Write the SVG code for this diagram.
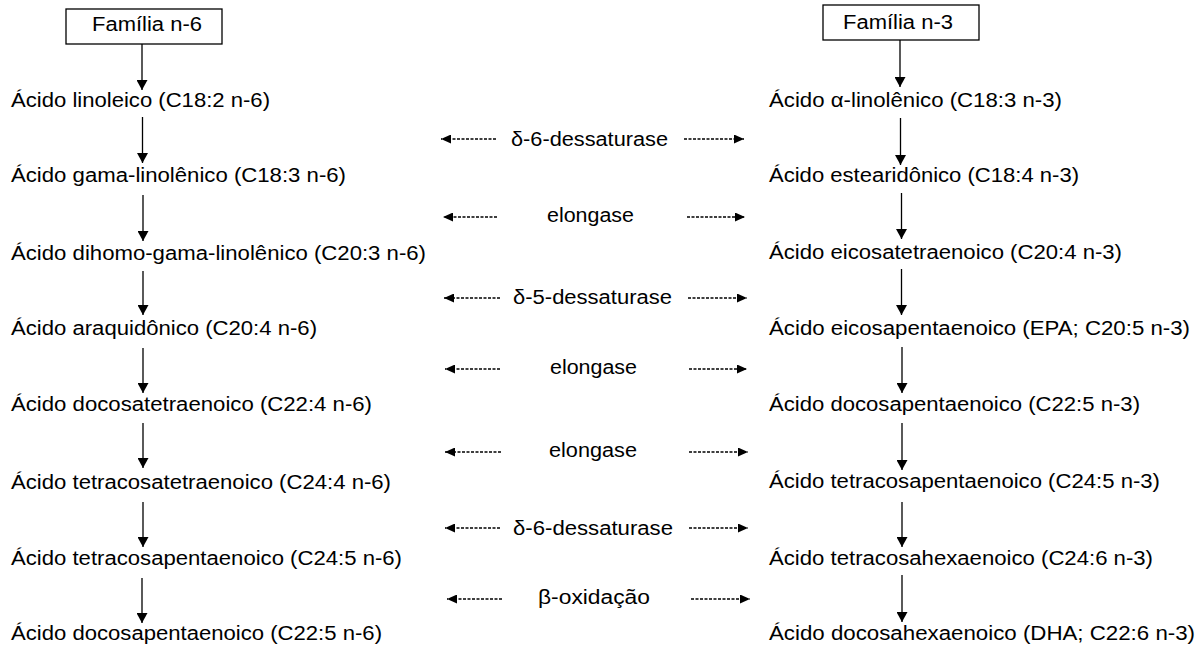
<svg xmlns="http://www.w3.org/2000/svg" width="1204" height="647" viewBox="0 0 1204 647">
<style>
text{font-family:"Liberation Sans",Arial,sans-serif;font-size:19.5px;fill:#000}
.box{fill:#fff;stroke:#000;stroke-width:1.3}
.solid{stroke:#000;stroke-width:1.3;fill:none;marker-end:url(#ah)}
.dash{stroke:#000;stroke-width:1.3;stroke-dasharray:3,1.5;fill:none;marker-end:url(#ahs)}
</style>
<defs>
<marker id="ah" markerUnits="userSpaceOnUse" viewBox="0 0 10 11" markerWidth="10" markerHeight="11" refX="10" refY="5.5" orient="auto"><path d="M0,0 L10,5.5 L0,11 z" fill="#000"/></marker>
<marker id="ahs" markerUnits="userSpaceOnUse" viewBox="0 0 10 9" markerWidth="10" markerHeight="9" refX="10" refY="4.5" orient="auto"><path d="M0,0 L10,4.5 L0,9 z" fill="#000"/></marker>
</defs>
<rect width="1204" height="647" fill="#fff"/>
<g id="connectors">
<line class="solid" x1="142" y1="44" x2="142" y2="90"/>
<line class="solid" x1="142.5" y1="117" x2="142.5" y2="163"/>
<line class="solid" x1="143" y1="195" x2="143" y2="241"/>
<line class="solid" x1="143" y1="271" x2="143" y2="315"/>
<line class="solid" x1="143" y1="348" x2="143" y2="393"/>
<line class="solid" x1="143" y1="423" x2="143" y2="468"/>
<line class="solid" x1="143" y1="502" x2="143" y2="547"/>
<line class="solid" x1="142" y1="578" x2="142" y2="623"/>
<line class="solid" x1="900" y1="40" x2="900" y2="87"/>
<line class="solid" x1="900.5" y1="118" x2="900.5" y2="165"/>
<line class="solid" x1="901.5" y1="193" x2="901.5" y2="239"/>
<line class="solid" x1="901.5" y1="269" x2="901.5" y2="315"/>
<line class="solid" x1="902" y1="347" x2="902" y2="393"/>
<line class="solid" x1="902" y1="423" x2="902" y2="470"/>
<line class="solid" x1="902" y1="502" x2="902" y2="547"/>
<line class="solid" x1="902" y1="575" x2="902" y2="622"/>
<line class="dash" x1="496" y1="139" x2="441" y2="139"/>
<line class="dash" x1="684" y1="139" x2="744" y2="139"/>
<line class="dash" x1="497" y1="217" x2="443" y2="217"/>
<line class="dash" x1="687" y1="217" x2="745" y2="217"/>
<line class="dash" x1="500" y1="298" x2="444" y2="298"/>
<line class="dash" x1="688" y1="298" x2="747" y2="298"/>
<line class="dash" x1="500" y1="369" x2="445" y2="369"/>
<line class="dash" x1="689" y1="369" x2="747" y2="369"/>
<line class="dash" x1="501" y1="452" x2="445" y2="452"/>
<line class="dash" x1="689" y1="452" x2="748" y2="452"/>
<line class="dash" x1="500" y1="528" x2="445" y2="528"/>
<line class="dash" x1="689" y1="528" x2="748" y2="528"/>
<line class="dash" x1="502" y1="599" x2="447" y2="599"/>
<line class="dash" x1="691" y1="599" x2="750" y2="599"/>
</g>
<g id="box-n6"><rect class="box" x="66" y="9" width="156" height="35"/><text x="92" y="30.5" textLength="110" lengthAdjust="spacingAndGlyphs">Família n-6</text></g>
<g id="box-n3"><rect class="box" x="823" y="5" width="156" height="35"/><text x="843" y="28.5" textLength="110" lengthAdjust="spacingAndGlyphs">Família n-3</text></g>
<g id="l1"><text x="11" y="107" textLength="259" lengthAdjust="spacingAndGlyphs">Ácido linoleico (C18:2 n-6)</text></g>
<g id="l2"><text x="11" y="182" textLength="335" lengthAdjust="spacingAndGlyphs">Ácido gama-linolênico (C18:3 n-6)</text></g>
<g id="l3"><text x="11" y="259.5" textLength="415" lengthAdjust="spacingAndGlyphs">Ácido dihomo-gama-linolênico (C20:3 n-6)</text></g>
<g id="l4"><text x="11" y="335" textLength="306" lengthAdjust="spacingAndGlyphs">Ácido araquidônico (C20:4 n-6)</text></g>
<g id="l5"><text x="11" y="411" textLength="361" lengthAdjust="spacingAndGlyphs">Ácido docosatetraenoico (C22:4 n-6)</text></g>
<g id="l6"><text x="11" y="488.5" textLength="380" lengthAdjust="spacingAndGlyphs">Ácido tetracosatetraenoico (C24:4 n-6)</text></g>
<g id="l7"><text x="11" y="565" textLength="391" lengthAdjust="spacingAndGlyphs">Ácido tetracosapentaenoico (C24:5 n-6)</text></g>
<g id="l8"><text x="11" y="640" textLength="371" lengthAdjust="spacingAndGlyphs">Ácido docosapentaenoico (C22:5 n-6)</text></g>
<g id="r1"><text x="769" y="107" textLength="293" lengthAdjust="spacingAndGlyphs">Ácido α-linolênico (C18:3 n-3)</text></g>
<g id="r2"><text x="769" y="182" textLength="310" lengthAdjust="spacingAndGlyphs">Ácido estearidônico (C18:4 n-3)</text></g>
<g id="r3"><text x="769" y="259" textLength="353" lengthAdjust="spacingAndGlyphs">Ácido eicosatetraenoico (C20:4 n-3)</text></g>
<g id="r4"><text x="769" y="335" textLength="421" lengthAdjust="spacingAndGlyphs">Ácido eicosapentaenoico (EPA; C20:5 n-3)</text></g>
<g id="r5"><text x="769" y="411" textLength="371" lengthAdjust="spacingAndGlyphs">Ácido docosapentaenoico (C22:5 n-3)</text></g>
<g id="r6"><text x="769" y="488" textLength="391" lengthAdjust="spacingAndGlyphs">Ácido tetracosapentaenoico (C24:5 n-3)</text></g>
<g id="r7"><text x="769" y="565" textLength="384" lengthAdjust="spacingAndGlyphs">Ácido tetracosahexaenoico (C24:6 n-3)</text></g>
<g id="r8"><text x="769" y="640" textLength="426" lengthAdjust="spacingAndGlyphs">Ácido docosahexaenoico (DHA; C22:6 n-3)</text></g>
<g id="e1"><text x="511" y="146" textLength="157" lengthAdjust="spacingAndGlyphs">δ-6-dessaturase</text></g>
<g id="e2"><text x="547" y="221.5" textLength="87" lengthAdjust="spacingAndGlyphs">elongase</text></g>
<g id="e3"><text x="513" y="303.5" textLength="159" lengthAdjust="spacingAndGlyphs">δ-5-dessaturase</text></g>
<g id="e4"><text x="550" y="373.5" textLength="87" lengthAdjust="spacingAndGlyphs">elongase</text></g>
<g id="e5"><text x="549" y="456.5" textLength="88" lengthAdjust="spacingAndGlyphs">elongase</text></g>
<g id="e6"><text x="513" y="535" textLength="160" lengthAdjust="spacingAndGlyphs">δ-6-dessaturase</text></g>
<g id="e7"><text x="538" y="603.5" textLength="112" lengthAdjust="spacingAndGlyphs">β-oxidação</text></g>
</svg>
